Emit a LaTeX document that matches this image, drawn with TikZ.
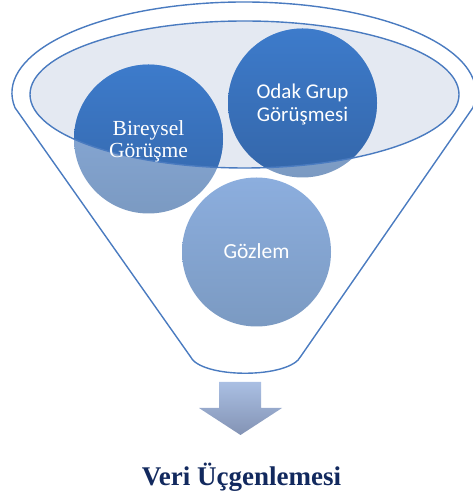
\documentclass[tikz,border=0pt]{standalone}
\usepackage{fontspec}
\setmainfont{Liberation Serif}
\newfontfamily\calibri{Carlito}
\usepackage{tikz}
\usepackage{xcolor}

\definecolor{entonnoir}{HTML}{4A7BC0}
\definecolor{fondellipse}{HTML}{E4E9F2}
\definecolor{foncehaut}{HTML}{3D7BCB}
\definecolor{foncebas}{HTML}{3466A9}
\definecolor{clairhaut}{HTML}{8CAEDE}
\definecolor{clairbas}{HTML}{7B9AC2}
\definecolor{flechehaut}{HTML}{AABFE3}
\definecolor{flechebas}{HTML}{8393B4}
\definecolor{titre}{HTML}{12295E}

\begin{document}
\begin{tikzpicture}[x=1pt, y=1pt]
  \useasboundingbox (0,0) rectangle (472,497);

  % Dessinez le contour de l'entonnoir
  \draw[entonnoir, line width=1.4pt, line join=round]
    (15,389.3) arc[start angle=189.3, end angle=-9.3, x radius=232, y radius=91]
    -- (301,141) .. controls (290,118) and (200,118) .. (190,141) -- cycle;

  % Remplissez l'ellipse du haut
  \fill[fondellipse] (244.5,402.5) ellipse (214.5 and 73.5);

  % Dessinez les cercles (partie claire)
  \foreach \x/\y in {148.5/358, 302.5/394, 256.5/245} {
    \shade[top color=clairhaut, bottom color=clairbas] (\x,\y) circle (74.5);
  }

  % Partie foncee des cercles dans l'ellipse
  \begin{scope}
    \clip (244.5,402.5) ellipse (214.5 and 73.5);
    \foreach \x/\y in {148.5/358, 302.5/394} {
      \shade[top color=foncehaut, bottom color=foncebas] (\x,\y) circle (74.5);
    }
  \end{scope}

  % Bord de l'ellipse
  \draw[entonnoir, line width=1.4pt] (244.5,402.5) ellipse (214.5 and 73.5);

  % Ajoutez les etiquettes des cercles
  \node[white, align=center, font=\fontsize{21.5}{22}\selectfont] (bireysel) at (148.5,356) {Bireysel\\Görüşme};
  \node[white, align=center, font=\calibri\fontsize{21}{23}\selectfont] (odak) at (302.5,393) {Odak Grup\\Görüşmesi};
  \node[white, font=\calibri\fontsize{21.5}{23}\selectfont] (gozlem) at (256.5,246) {Gözlem};

  % Dessinez la fleche
  \shade[top color=flechehaut, bottom color=flechebas]
    (219,115) -- (261,115) -- (261,89) -- (282,89) -- (240.5,62) -- (199,89) -- (219,89) -- cycle;

  % Ajoutez le titre
  \node[titre, anchor=base, font=\bfseries\fontsize{27}{30}\selectfont] (verititre) at (241.5,12) {Veri Üçgenlemesi};
\end{tikzpicture}
\end{document}
